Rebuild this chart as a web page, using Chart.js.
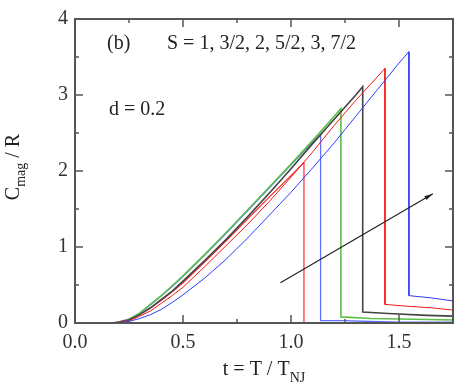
<!DOCTYPE html>
<html>
<head>
<meta charset="utf-8">
<script src="https://cdn.jsdelivr.net/npm/chart.js@4.4.1/dist/chart.umd.min.js"></script>
<style>
  html, body { margin: 0; padding: 0; background: #fff; }
  canvas { display: block; }
</style>
</head>
<body>
<canvas id="chart" width="457" height="392"></canvas>
<script>
// values: t = T / T_NJ, C_mag / R
const s1T  = [0.17, 0.2, 0.25, 0.3, 0.35, 0.4, 0.45, 0.5, 0.6, 0.7, 0.8, 0.9, 1.0, 1.06, 1.06, 1.2, 1.5, 1.75];
const s1C  = [0, 0.01, 0.04, 0.11, 0.2, 0.3, 0.41, 0.53, 0.8, 1.08, 1.37, 1.66, 1.94, 2.11, 0.0, 0.0, 0.0, 0.0];

const s32T = [0.17, 0.2, 0.25, 0.3, 0.35, 0.4, 0.45, 0.5, 0.6, 0.7, 0.8, 0.9, 1.0, 1.1, 1.137, 1.137, 1.25, 1.37, 1.5, 1.75];
const s32C = [0, 0.01, 0.05, 0.13, 0.24, 0.36, 0.48, 0.61, 0.89, 1.18, 1.48, 1.78, 2.08, 2.38, 2.48, 0.03, 0.03, 0.02, 0.01, 0.01];

const s2T  = [0.17, 0.2, 0.25, 0.3, 0.35, 0.4, 0.45, 0.5, 0.6, 0.7, 0.8, 0.9, 1.0, 1.1, 1.2, 1.231, 1.231, 1.37, 1.57, 1.75];
const s2C  = [0, 0.01, 0.05, 0.13, 0.25, 0.36, 0.49, 0.62, 0.9, 1.19, 1.49, 1.79, 2.09, 2.4, 2.72, 2.82, 0.08, 0.06, 0.05, 0.04];

const s52T = [0.17, 0.2, 0.25, 0.3, 0.35, 0.4, 0.45, 0.5, 0.6, 0.7, 0.8, 0.9, 1.0, 1.1, 1.2, 1.3, 1.332, 1.332, 1.45, 1.63, 1.75];
const s52C = [0, 0.01, 0.04, 0.11, 0.2, 0.31, 0.42, 0.55, 0.82, 1.1, 1.4, 1.71, 2.03, 2.36, 2.68, 3.0, 3.11, 0.145, 0.125, 0.1, 0.09];

const s3T  = [0.17, 0.2, 0.25, 0.3, 0.35, 0.4, 0.45, 0.5, 0.6, 0.7, 0.8, 0.9, 1.0, 1.1, 1.2, 1.3, 1.4, 1.435, 1.435, 1.54, 1.65, 1.75];
const s3C  = [0, 0.01, 0.03, 0.09, 0.16, 0.26, 0.36, 0.47, 0.74, 1.02, 1.3, 1.6, 1.92, 2.25, 2.6, 2.93, 3.24, 3.35, 0.245, 0.22, 0.2, 0.17];

const s72T = [0.17, 0.2, 0.25, 0.3, 0.35, 0.4, 0.45, 0.5, 0.6, 0.7, 0.8, 0.9, 1.0, 1.1, 1.2, 1.3, 1.4, 1.5, 1.546, 1.546, 1.65, 1.75];
const s72C = [0, 0.005, 0.02, 0.06, 0.11, 0.18, 0.27, 0.37, 0.59, 0.84, 1.12, 1.42, 1.72, 2.04, 2.37, 2.72, 3.07, 3.42, 3.57, 0.36, 0.33, 0.29];

const xTicks = [0, 0.5, 1.0, 1.5];
const xMinor = [0.25, 0.75, 1.25, 1.75];
const yTicks = [0, 1, 2, 3, 4];
const yMinor = [0.5, 1.5, 2.5, 3.5];

const arrowT = [0.951, 1.657];
const arrowC = [0.53, 1.70];

const serif = '"Liberation Serif", "DejaVu Serif", serif';

function pts(ts, cs) {
    return ts.map((t, i) => ({ x: t, y: cs[i] }));
}

function series(label, ts, cs, color, width) {
    return {
        label: label,
        data: pts(ts, cs),
        borderColor: color,
        borderWidth: width,
        pointRadius: 0,
        tension: 0,
        fill: false,
    };
}

const framePlugin = {
    id: 'frame',
    afterDatasetsDraw: (chart) => {
        const { ctx, chartArea: a, scales: { x, y } } = chart;
        ctx.save();

        // arrow
        const x0 = x.getPixelForValue(arrowT[0]), y0 = y.getPixelForValue(arrowC[0]);
        const x1 = x.getPixelForValue(arrowT[1]), y1 = y.getPixelForValue(arrowC[1]);
        ctx.strokeStyle = '#222';
        ctx.fillStyle = '#222';
        ctx.lineWidth = 1.2;
        ctx.beginPath();
        ctx.moveTo(x0, y0);
        ctx.lineTo(x1, y1);
        ctx.stroke();
        const ang = Math.atan2(y1 - y0, x1 - x0);
        ctx.beginPath();
        ctx.moveTo(x1, y1);
        ctx.lineTo(x1 - 9 * Math.cos(ang - 0.25), y1 - 9 * Math.sin(ang - 0.25));
        ctx.lineTo(x1 - 9 * Math.cos(ang + 0.25), y1 - 9 * Math.sin(ang + 0.25));
        ctx.closePath();
        ctx.fill();

        // box
        ctx.strokeStyle = '#555';
        ctx.lineWidth = 2;
        ctx.strokeRect(a.left, a.top, a.right - a.left, a.bottom - a.top);

        // inward ticks
        ctx.lineWidth = 1.5;
        ctx.beginPath();
        const tick = (vals, len) => {
            vals.forEach(v => {
                const px = x.getPixelForValue(v);
                if (px > a.left + 1 && px < a.right - 1) {
                    ctx.moveTo(px, a.bottom); ctx.lineTo(px, a.bottom - len);
                    ctx.moveTo(px, a.top); ctx.lineTo(px, a.top + len);
                }
            });
        };
        const tickY = (vals, len) => {
            vals.forEach(v => {
                const py = y.getPixelForValue(v);
                if (py > a.top + 1 && py < a.bottom - 1) {
                    ctx.moveTo(a.left, py); ctx.lineTo(a.left + len, py);
                    ctx.moveTo(a.right, py); ctx.lineTo(a.right - len, py);
                }
            });
        };
        tick(xTicks, 8); tick(xMinor, 4);
        tickY(yTicks, 8); tickY(yMinor, 4);
        ctx.stroke();

        // texts
        ctx.fillStyle = '#222';
        ctx.font = '20px ' + serif;
        ctx.textBaseline = 'alphabetic';
        ctx.textAlign = 'left';
        ctx.fillText('(b)', 107, 49);
        ctx.fillText('S = 1, 3/2, 2, 5/2, 3, 7/2', 167, 49);
        ctx.fillText('d = 0.2', 109, 115);

        // x title with subscript
        const xMain = 't = T / T';
        ctx.font = '20px ' + serif;
        const wMain = ctx.measureText(xMain).width;
        ctx.font = '14px ' + serif;
        const wSub = ctx.measureText('NJ').width;
        let sx = 264 - (wMain + wSub) / 2;
        ctx.font = '20px ' + serif;
        ctx.fillText(xMain, sx, 375);
        ctx.font = '14px ' + serif;
        ctx.fillText('NJ', sx + wMain, 382);

        // y title with subscript, rotated
        ctx.save();
        ctx.translate(19, 167);
        ctx.rotate(-Math.PI / 2);
        ctx.font = '20px ' + serif;
        const wC = ctx.measureText('C').width;
        const wR = ctx.measureText(' / R').width;
        ctx.font = '14px ' + serif;
        const wM = ctx.measureText('mag').width;
        let ty = -(wC + wM + wR) / 2;
        ctx.font = '20px ' + serif;
        ctx.fillText('C', ty, 0);
        ctx.font = '14px ' + serif;
        ctx.fillText('mag', ty + wC, 6);
        ctx.font = '20px ' + serif;
        ctx.fillText(' / R', ty + wC + wM, 0);
        ctx.restore();

        ctx.restore();
    },
};

new Chart(document.getElementById('chart'), {
    type: 'line',
    data: {
        datasets: [
            series('S = 7/2', s72T, s72C, '#2c3cff', 1),
            series('S = 3', s3T, s3C, '#f01818', 1),
            series('S = 5/2', s52T, s52C, '#444444', 1.6),
            series('S = 2', s2T, s2C, '#5cbf48', 1.6),
            series('S = 3/2', s32T, s32C, '#6272ff', 1.3),
            series('S = 1', s1T, s1C, '#ff1a1a', 1.1),
        ],
    },
    plugins: [framePlugin],
    options: {
        responsive: false,
        animation: false,
        devicePixelRatio: 1,
        layout: { padding: { top: 12, right: 4, left: 0, bottom: 0 } },
        plugins: { legend: { display: false }, tooltip: { enabled: false } },
        scales: {
            x: {
                type: 'linear',
                min: 0,
                max: 1.75,
                afterBuildTicks: (s) => { s.ticks = xTicks.map(v => ({ value: v })); },
                afterFit: (s) => { s.height = 69; },
                grid: { display: false, drawTicks: false },
                border: { display: false },
                ticks: {
                    color: '#333',
                    padding: 8,
                    maxRotation: 0,
                    font: { family: serif, size: 20 },
                    callback: (v) => v.toFixed(1),
                },
            },
            y: {
                type: 'linear',
                min: 0,
                max: 4,
                afterBuildTicks: (s) => { s.ticks = yTicks.map(v => ({ value: v })); },
                afterFit: (s) => { s.width = 75; },
                grid: { display: false, drawTicks: false },
                border: { display: false },
                ticks: {
                    color: '#333',
                    padding: 7,
                    font: { family: serif, size: 20 },
                    callback: (v) => String(v),
                },
            },
        },
    },
});
</script>
</body>
</html>
